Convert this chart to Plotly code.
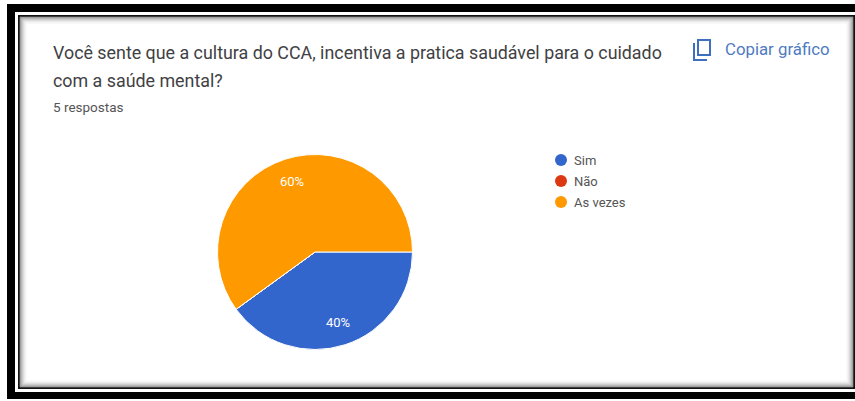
import math

import plotly.graph_objects as go

WIDTH, HEIGHT = 855, 401

categories = ["Sim", "Não", "As vezes"]
responses = [2, 0, 3]
colors = ["#3366cc", "#dc3912", "#ff9900"]

question_lines = [
    "Você sente que a cultura do CCA, incentiva a pratica saudável para o cuidado",
    "com a saúde mental?",
]
response_count = "5 respostas"
copy_label = "Copiar gráfico"


def px(x):
    return x / WIDTH


def py(y):
    return 1 - y / HEIGHT


def rect(x0, y0, x1, y1, fill=None, line=None, width=0, opacity=1):
    return dict(
        type="rect", xref="paper", yref="paper",
        x0=px(x0), x1=px(x1), y0=py(y0), y1=py(y1),
        fillcolor=fill or "rgba(0,0,0,0)",
        line=dict(color=line or "rgba(0,0,0,0)", width=width),
        opacity=opacity, layer="below",
    )


# Black outer frame, thin white gap, dark inner edge
shapes = [
    rect(7, 4, 860, 399, fill="#000000"),
    rect(15, 12, 860, 392, fill="#ffffff"),
    rect(18, 15, 855, 389, fill="#111111"),
    rect(20, 17, 853, 387, fill="#ffffff"),
]
# Soft inner shadow running along the card edge
shadow_greys = ["#6a6a6a", "#8c8c8c", "#a8a8a8", "#c2c2c2", "#d8d8d8", "#e8e8e8", "#f4f4f4"]
for i, grey in enumerate(shadow_greys):
    shapes.append(rect(20 + i, 17 + i, 853 - i, 387 - i, line=grey, width=1))

# Copy icon next to the action label
icon_color = "#3f6fc0"
shapes.append(rect(698, 40, 710, 55, line=icon_color, width=2))
shapes.append(dict(
    type="path", xref="paper", yref="paper",
    path=f"M {px(694)} {py(43)} L {px(694)} {py(60)} L {px(707)} {py(60)}",
    line=dict(color=icon_color, width=2),
))


def text(x, y, label, size, color, anchor="left"):
    return dict(
        xref="paper", yref="paper", x=px(x), y=py(y),
        xanchor=anchor, yanchor="middle", showarrow=False,
        text=label, font=dict(family="Roboto", size=size, color=color),
    )


annotations = [
    text(51, 52, question_lines[0], 17.85, "#3f4144"),
    text(51, 80, question_lines[1], 17.85, "#3f4144"),
    text(51, 107, response_count, 13.5, "#555555"),
    text(723, 49, copy_label, 16.8, "#4f7bc0"),
]

# Legend keys and names
legend_rows = [160, 181, 202]
for name, color, row in zip(categories, colors, legend_rows):
    shapes.append(dict(
        type="circle", xref="paper", yref="paper",
        x0=px(555), x1=px(567), y0=py(row - 6), y1=py(row + 6),
        fillcolor=color, line=dict(width=0),
    ))
    annotations.append(text(572, row, name, 13, "#555555"))

# Percent labels sit at a fixed fraction of the radius, mid-slice
CENTER_X, CENTER_Y, RADIUS = 315, 252, 97.5
total = sum(responses)
start = 90.0
for value in responses:
    sweep = 360 * value / total
    if value:
        mid = math.radians(start + sweep / 2)
        annotations.append(text(
            CENTER_X + 0.76 * RADIUS * math.sin(mid),
            CENTER_Y - 0.76 * RADIUS * math.cos(mid),
            f"{value / total:.0%}", 13, "#ffffff", anchor="center",
        ))
    start += sweep

fig = go.Figure(go.Pie(
    labels=categories,
    values=responses,
    sort=False,
    direction="clockwise",
    rotation=90,
    marker=dict(colors=colors, line=dict(color="#ffffff", width=1)),
    textinfo="none",
    hoverinfo="skip",
    showlegend=False,
    domain=dict(
        x=[px(CENTER_X - RADIUS), px(CENTER_X + RADIUS)],
        y=[py(CENTER_Y + RADIUS), py(CENTER_Y - RADIUS)],
    ),
))

fig.update_layout(
    width=WIDTH, height=HEIGHT,
    margin=dict(l=0, r=0, t=0, b=0),
    paper_bgcolor="#ffffff",
    shapes=shapes,
    annotations=annotations,
    showlegend=False,
)

fig.write_html("out.html", config=dict(displayModeBar=False))
